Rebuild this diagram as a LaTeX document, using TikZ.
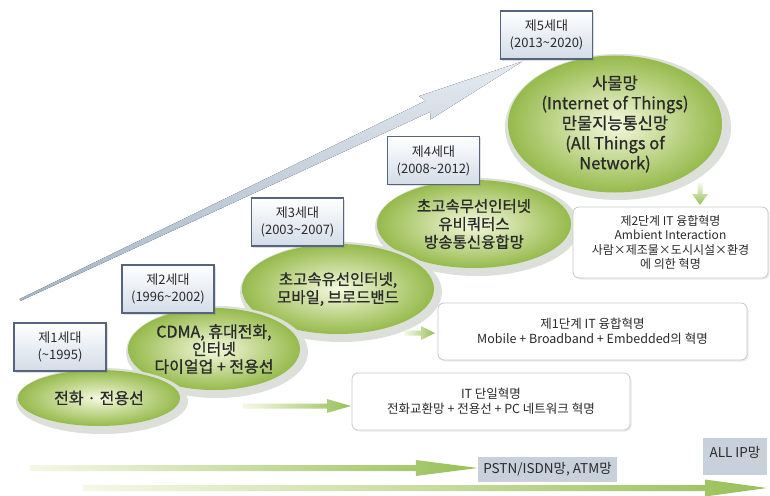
\documentclass[tikz,border=0pt]{standalone}
\usepackage{fontspec}
\setmainfont{Noto Sans CJK KR}
\newfontfamily\krmid[FakeBold=0.9]{Noto Sans CJK KR}
\usetikzlibrary{shapes.geometric,calc,shadows}
\definecolor{ginner}{HTML}{F5F9DE}
\definecolor{gouter}{HTML}{96BA4C}
\definecolor{glowc}{HTML}{DDE0DA}
\definecolor{boxbot}{HTML}{D3DCE8}
\definecolor{boxline}{HTML}{56647E}
\definecolor{txt}{HTML}{2A2A2A}
\definecolor{arrlight}{HTML}{E4EAF0}
\definecolor{arrdark}{HTML}{A5B5C7}
\definecolor{lblfill}{HTML}{C8D0DB}
\definecolor{grlight}{HTML}{F6F8E6}
\definecolor{grdark}{HTML}{98C058}
\newcommand\hArrow[6]{%
  \path[#6] let \p1=(#1), \p2=(#2) in
    (\x1,\y1+#3) -- (\x2-#5,\y1+#3) -- (\x2-#5,\y1+#4) -- (\x2,\y1)
    -- (\x2-#5,\y1-#4) -- (\x2-#5,\y1-#3) -- (\x1,\y1-#3) -- cycle;}
\tikzset{
  gball/.style={ellipse, inner color=ginner, outer color=gouter, inner sep=0pt,
    text=txt, align=center, font=\krmid\fontsize{15.5}{18}\selectfont},
  glow/.style={ellipse, fill=glowc, inner sep=0pt},
  genbox/.style={rectangle, top color=white, bottom color=boxbot, draw=boxline,
    line width=1.4pt, align=center, text=txt, inner sep=0pt,
    font=\fontsize{13}{17}\selectfont, minimum width=92pt, minimum height=48pt,
    drop shadow={opacity=0.25, shadow xshift=1.5pt, shadow yshift=-1.5pt}},
  tbox/.style={rectangle, rounded corners=6pt, fill=white, draw=black!22,
    line width=0.8pt, align=center, text=txt, inner sep=0pt,
    font=\fontsize{12.5}{15}\selectfont,
    drop shadow={opacity=0.15, shadow xshift=1.5pt, shadow yshift=-1.5pt}},
  lbl/.style={rectangle, fill=lblfill, text=txt, inner sep=0pt,
    font=\fontsize{13.5}{15}\selectfont},
  greenarrow/.style={left color=grlight, right color=grdark},
}
\begin{document}
\begin{tikzpicture}[x=1pt,y=-1pt]
\useasboundingbox (0,0) rectangle (770,495);
\fill[white] (0,0) rectangle (770,495);

% big diagonal arrow
\begin{scope}[shift={(20,300)},rotate=25.4]
  \fill[top color=arrlight,bottom color=arrdark]
    (0,-1) -- (452,-6) -- (448,-13) -- (556,0) -- (448,13) -- (452,6) -- (0,1) -- cycle;
\end{scope}

% ellipses (back to front)
\node[glow, minimum width=226pt, minimum height=146pt] (e5g) at (618,127) {};
\node[gball, minimum width=214pt, minimum height=136pt, font=\krmid\fontsize{16.5}{20}\selectfont] (e5) at (615,124)
  {사물망\\(Internet of Things)\\만물지능통신망\\(All Things of\\Network)};
\node[glow, minimum width=204pt, minimum height=98pt] (e4g) at (477,227) {};
\node[gball, minimum width=194pt, minimum height=88pt] (e4) at (474,224)
  {초고속무선인터넷\\유비쿼터스\\방송통신융합망};
\node[glow, minimum width=202pt, minimum height=100pt] (e3g) at (341,292) {};
\node[gball, minimum width=192pt, minimum height=90pt] (e3) at (338,289)
  {초고속유선인터넷,\\모바일, 브로드밴드};
\node[glow, minimum width=182pt, minimum height=92pt] (e2g) at (217,352) {};
\node[gball, minimum width=172pt, minimum height=82pt, font=\krmid\fontsize{16}{17.5}\selectfont] (e2) at (214,349)
  {CDMA, 휴대전화,\\인터넷\\다이얼업 + 전용선};
\node[glow, minimum width=172pt, minimum height=66pt] (e1g) at (102,401) {};
\node[gball, minimum width=162pt, minimum height=56pt, font=\krmid\fontsize{16}{18}\selectfont] (e1) at (99,398)
  {전화 · 전용선};

% generation boxes
\node[genbox] (g1) at (60,347) {제1세대\\(\textasciitilde1995)};
\node[genbox] (g2) at (168,289) {제2세대\\(1996\textasciitilde2002)};
\node[genbox] (g3) at (297.5,222) {제3세대\\(2003\textasciitilde2007)};
\node[genbox] (g4) at (433.5,160.5) {제4세대\\(2008\textasciitilde2012)};
\node[genbox] (g5) at (546.5,35) {제5세대\\(2013\textasciitilde2020)};

% revolution text boxes
\node[tbox, minimum width=195pt, minimum height=71pt, font=\fontsize{12}{14.5}\selectfont] (t2) at (670.5,242.5)
  {제2단계 IT 융합혁명\\Ambient Interaction\\사람×제조물×도시시설×환경\\에 의한 혁명};
\node[tbox, minimum width=309pt, minimum height=57pt] (t1) at (592.5,331.5)
  {제1단계 IT 융합혁명\\Mobile + Broadband + Embedded의 혁명};
\node[tbox, minimum width=278pt, minimum height=57pt] (t0) at (491,401.5)
  {IT 단일혁명\\전화교환망 + 전용선 + PC 네트워크 혁명};

% small arrows to text boxes
\coordinate (a0s) at (243,406);
\coordinate (a0e) at (351,406);
\hArrow{a0s}{a0e}{2.5pt}{7pt}{24pt}{greenarrow}
\coordinate (a1s) at (404,333);
\coordinate (a1e) at (435,333);
\hArrow{a1s}{a1e}{2.5pt}{7pt}{14pt}{greenarrow}
\coordinate (a2s) at (700,183);
\coordinate (a2e) at (700,205);
\path[top color=grlight, bottom color=grdark] let \p1=(a2s), \p2=(a2e) in
  (\x1-2.5pt,\y1) -- (\x1-2.5pt,\y2+11pt) -- (\x1-8pt,\y2+11pt) -- (\x1,\y2)
  -- (\x1+8pt,\y2+11pt) -- (\x1+2.5pt,\y2+11pt) -- (\x1+2.5pt,\y1) -- cycle;

% bottom labels and arrows
\node[lbl, minimum width=139pt, minimum height=25pt] (l1) at (547.5,469.5) {PSTN/ISDN망, ATM망};
\node[lbl, minimum width=64pt, minimum height=37pt, text depth=10pt] (l2) at (735,456.5) {ALL IP망};
\coordinate (b1s) at (30,468);
\coordinate (b1e) at (l1.west);
\hArrow{b1s}{b1e}{3pt}{8pt}{62pt}{greenarrow}
\coordinate (b2s) at (83,488);
\coordinate (b2e) at (767,488);
\hArrow{b2s}{b2e}{3pt}{8.5pt}{62pt}{greenarrow}
\end{tikzpicture}
\end{document}
